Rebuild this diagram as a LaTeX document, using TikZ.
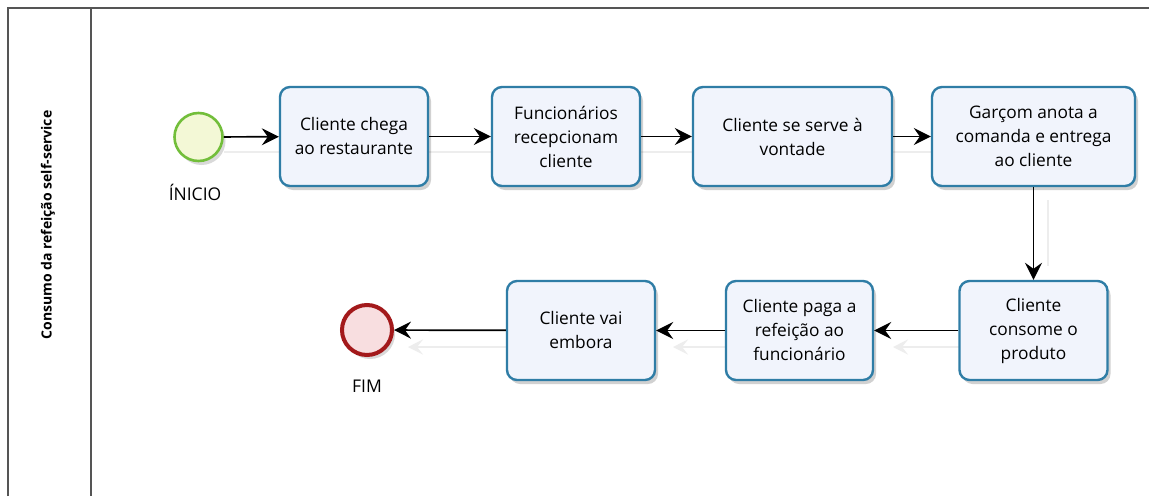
\documentclass[tikz,border=0pt]{standalone}
\usepackage{fontspec}
\setmainfont{Open Sans}
\usetikzlibrary{arrows.meta,shadows}
\definecolor{boxline}{HTML}{2F7DA6}
\definecolor{boxfill}{HTML}{F1F4FC}
\definecolor{startline}{HTML}{72BE3A}
\definecolor{startfill}{HTML}{F3F8D6}
\definecolor{endline}{HTML}{A3191B}
\definecolor{endfill}{HTML}{F8DEE0}
\definecolor{poolline}{HTML}{555555}
\definecolor{ghost}{HTML}{EDEDED}
\tikzset{
  task/.style={draw=boxline, line width=2.4pt, fill=boxfill, rounded corners=10pt,
    minimum height=99pt, inner sep=0pt, align=center,
    font=\fontsize{17.3}{24}\selectfont,
    drop shadow={shadow xshift=3pt, shadow yshift=-4pt, opacity=0.18, fill=black}},
  startev/.style={circle, draw=startline, line width=2.6pt, fill=startfill, minimum size=48pt, inner sep=0pt,
    drop shadow={shadow xshift=3pt, shadow yshift=-4pt, opacity=0.15, fill=black}},
  endev/.style={circle, draw=endline, line width=4pt, fill=endfill, minimum size=50pt, inner sep=0pt,
    drop shadow={shadow xshift=3pt, shadow yshift=-4pt, opacity=0.15, fill=black}},
  evlabel/.style={font=\fontsize{17.5}{20}\selectfont, inner sep=0pt},
  flow/.style={draw=black, line width=1.7pt, -{Stealth[length=17pt, width=17pt, inset=6pt]}},
  ghostline/.style={draw=ghost, line width=2pt},
  ghostflow/.style={draw=ghost, line width=2pt, -{Stealth[length=15pt, width=15pt, inset=6pt]}},
  pool/.style={draw=poolline, line width=1.3pt}
}
\begin{document}
\begin{tikzpicture}[x=1pt,y=-1pt]
\useasboundingbox (0,0) rectangle (1149,496);
\fill[white] (0,0) rectangle (1149,496);

% pool and lane
\coordinate (pTL) at (8,8);
\coordinate (pTR) at (1149,8);
\coordinate (pBL) at (8,496);
\coordinate (dT) at (91,8);
\coordinate (dB) at (91,496);
\draw[pool] (pBL) -- (pTL) -- (pTR);
\draw[pool] (dT) -- (dB);
\node[rotate=90, font=\fontsize{14}{16}\selectfont\bfseries, inner sep=0pt] (lanelabel) at (48,225) {Consumo da refeição self-service};

% ghost reflections
\draw[ghostline] (224,152) -- (280,152);
\draw[ghostline] (428,152) -- (492,152);
\draw[ghostline] (640,152) -- (693,152);
\draw[ghostline] (892,152) -- (932,152);
\draw[ghostline] (1048,200) -- (1048,266);
\draw[ghostflow] (959,347) -- (893,347);
\draw[ghostflow] (726,347) -- (673,347);
\draw[ghostflow] (507,347) -- (408,347);

% events
\node[startev] (start) at (198.5,137) {};
\node[evlabel] (startlbl) at (195,192) {ÍNICIO};
\node[endev] (end) at (367,330) {};
\node[evlabel] (endlbl) at (367,386) {FIM};

% tasks
\node[task, minimum width=148pt] (t1) at (354,136.5) {Cliente chega\\ao restaurante};
\node[task, minimum width=148pt] (t2) at (566,136.5) {Funcionários\\recepcionam\\cliente};
\node[task, minimum width=199pt] (t3) at (792.5,136.5) {Cliente se serve à\\vontade};
\node[task, minimum width=203pt] (t4) at (1033.5,136.5) {Garçom anota a\\comanda e entrega\\ao cliente};
\node[task, minimum width=148pt] (t5) at (1033.5,330.5) {Cliente\\consome o\\produto};
\node[task, minimum width=147pt] (t6) at (799.5,330.5) {Cliente paga a\\refeição ao\\funcionário};
\node[task, minimum width=148pt] (t7) at (581,330.5) {Cliente vai\\embora};

% flows
\draw[flow] (start) -- (t1);
\draw[flow] (t1) -- (t2);
\draw[flow] (t2) -- (t3);
\draw[flow] (t3) -- (t4);
\draw[flow] (t4) -- (t5);
\draw[flow] (t5) -- (t6);
\draw[flow] (t6) -- (t7);
\draw[flow] (t7) -- (end);
\end{tikzpicture}
\end{document}
